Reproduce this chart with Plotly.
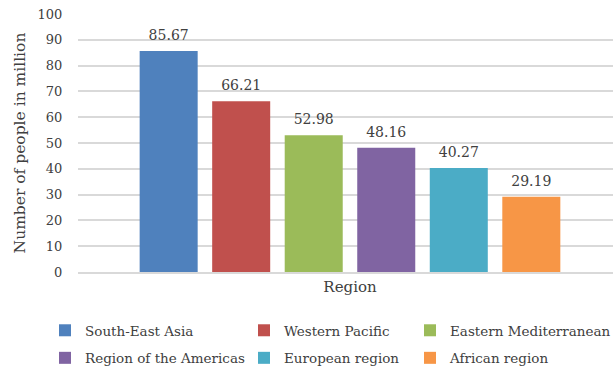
import plotly.graph_objects as go

regions = ["South-East Asia", "Western Pacific", "Eastern Mediterranean",
           "Region of the Americas", "European region", "African region"]
values = [85.67, 66.21, 52.98, 48.16, 40.27, 29.19]
colors = ["#4F81BD", "#C0504D", "#9BBB59", "#8064A2", "#4BACC6", "#F79646"]
category = ["Region"]
y_ticks = [0, 10, 20, 30, 40, 50, 60, 70, 80, 90, 100]

FONT = "DejaVu Serif"
TXT = "#404040"

legend_of = ["legend", "legend2", "legend3", "legend", "legend2", "legend3"]

fig = go.Figure()
for i, (name, v, c) in enumerate(zip(regions, values, colors)):
    fig.add_trace(go.Bar(
        x=category, y=[v], name=name, marker_color=c, marker_line_width=0,
        texttemplate="<span style='font-size:14px'>%{y:.2f}</span><br> ",
        textposition="outside", cliponaxis=False, constraintext="none",
        textfont=dict(family=FONT, size=5.5, color=TXT),
        legend=legend_of[i], legendgroup=name,
    ))

W, H = 613, 370
L, R, T, B = 78, 0, 14, 98
pw, ph = W - L - R, H - T - B


def px_x(x):
    return (x - L) / pw


def px_y(y):
    return (H - B - y) / ph


leg_common = dict(orientation="v", xanchor="left", yanchor="top",
                  tracegroupgap=7,
                  font=dict(family=FONT, size=13.5, color=TXT),
                  bgcolor="rgba(0,0,0,0)")

fig.update_layout(
    width=W, height=H,
    margin=dict(l=L, r=R, t=T, b=B, autoexpand=False),
    paper_bgcolor="white", plot_bgcolor="white",
    barmode="group", bargap=0.2, bargroupgap=0.2,
    font=dict(family=FONT, size=13, color=TXT),
    showlegend=True,
    legend=dict(x=px_x(45), y=px_y(315), **leg_common),
    legend2=dict(x=px_x(244), y=px_y(315), **leg_common),
    legend3=dict(x=px_x(410), y=px_y(315), **leg_common),
    xaxis=dict(type="category", range=[-0.5, 0.4835], showgrid=False,
               showline=True, linecolor="#D9D9D9", linewidth=1.5,
               ticks="", tickfont=dict(family=FONT, size=15, color=TXT),
               fixedrange=True),
    yaxis=dict(range=[0, 100], tickvals=y_ticks, showgrid=True,
               gridcolor="#D9D9D9", gridwidth=1.5, zeroline=False,
               showline=False, ticks="outside", ticklen=12,
               tickcolor="rgba(0,0,0,0)",
               tickfont=dict(family=FONT, size=13, color=TXT),
               title=dict(text="Number of people in million", standoff=8,
                          font=dict(family=FONT, size=15.5, color=TXT))),
)

fig.write_html("out.html")
